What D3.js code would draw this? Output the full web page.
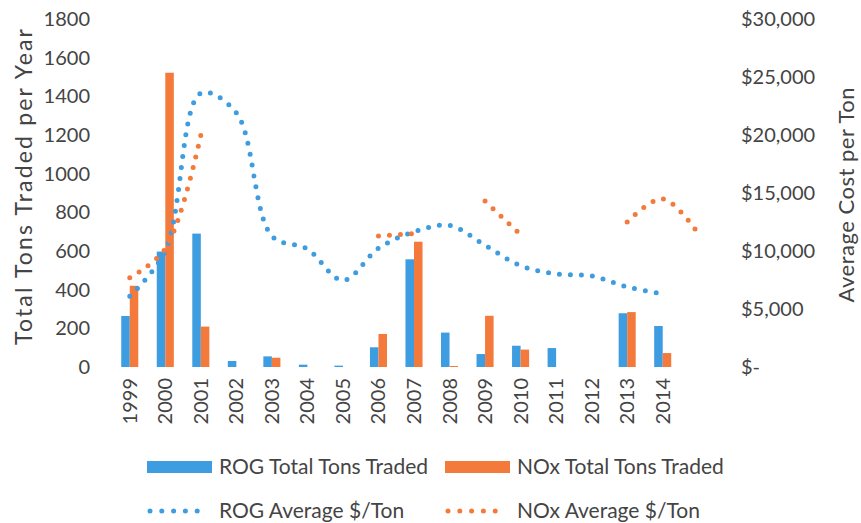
<!DOCTYPE html>
<html>
<head>
<meta charset="utf-8">
<script src="https://cdn.jsdelivr.net/npm/d3@7"></script>
<style>
  html, body { margin: 0; padding: 0; background: #fff; }
  svg { display: block; }
  text { font-family: Lato, "Open Sans", sans-serif; fill: #444; }
</style>
</head>
<body>
<svg id="chart" width="861" height="523"></svg>
<script>
// ---- data ----
const categories = ["1999","2000","2001","2002","2003","2004","2005","2006","2007","2008","2009","2010","2011","2012","2013","2014","2015"];
const xTickLabels = ["1999","2000","2001","2002","2003","2004","2005","2006","2007","2008","2009","2010","2011","2012","2013","2014",""];
const rogTons = [264, 597, 690, 31, 55, 12, 7, 102, 557, 178, 67, 110, 98, 0, 278, 212, null];
const noxTons = [420, 1522, 209, 0, 48, 0, 0, 171, 648, 5, 265, 90, 0, 0, 284, 72, null];
const rogCost = [6100, 10000, 23600, 21900, 11300, 10170, 7470, 10230, 11650, 12200, 10490, 8730, 8020, 7850, 6900, 6300, null];
const noxCost = [7700, 10200, 20000, null, null, null, null, 11300, 11500, null, 14300, 11400, null, null, 12500, 14500, 11500];
const leftTicks = [0, 200, 400, 600, 800, 1000, 1200, 1400, 1600, 1800];
const rightTicks = [0, 5000, 10000, 15000, 20000, 25000, 30000];
const seriesNames = ["ROG Total Tons Traded", "NOx Total Tons Traded", "ROG Average $/Ton", "NOx Average $/Ton"];
const colors = { rog: "#3d9de0", nox: "#f47a3c" };

// ---- layout ----
const svg = d3.select("#chart");
const plot = { left: 112, right: 716, top: 19, bottom: 367 };

const x = d3.scaleBand().domain(categories).range([plot.left, plot.right]).padding(0);
const xs = d3.scaleBand().domain(["rog","nox"]).range([0, x.bandwidth() * 0.48]);
const yL = d3.scaleLinear().domain([0, 1800]).range([plot.bottom, plot.top]);
const yR = d3.scaleLinear().domain([0, 30000]).range([plot.bottom, plot.top]);

// bars
const barOffset = (x.bandwidth() - x.bandwidth() * 0.48) / 2;
const barData = [];
categories.forEach((c, i) => {
  if (rogTons[i] != null) barData.push({ c, k: "rog", v: rogTons[i] });
  if (noxTons[i] != null) barData.push({ c, k: "nox", v: noxTons[i] });
});
svg.append("g").selectAll("rect").data(barData.filter(d => d.v > 0)).join("rect")
  .attr("x", d => x(d.c) + barOffset + xs(d.k))
  .attr("width", xs.bandwidth())
  .attr("y", d => yL(d.v))
  .attr("height", d => yL(0) - yL(d.v))
  .attr("fill", d => colors[d.k]);

// lines
const line = (scale) => d3.line()
  .defined(d => d.v != null)
  .x(d => x(d.c) + x.bandwidth() / 2)
  .y(d => scale(d.v))
  .curve(d3.curveCatmullRom.alpha(0.5));

function drawLine(vals, color) {
  const data = categories.map((c, i) => ({ c, v: vals[i] }));
  svg.append("path").datum(data)
    .attr("d", line(yR))
    .attr("fill", "none")
    .attr("stroke", color)
    .attr("stroke-width", 5)
    .attr("stroke-linecap", "round")
    .attr("stroke-dasharray", "0 11");
}
drawLine(rogCost, colors.rog);
drawLine(noxCost, colors.nox);

// axes
const axL = d3.axisLeft(yL).tickValues(leftTicks).tickFormat(d3.format("d")).tickSize(0).tickPadding(0);
const gL = svg.append("g").attr("transform", "translate(90,0)").call(axL);
gL.select(".domain").remove();
gL.selectAll("text").style("font-size", "20px").style("font-family", "Lato").attr("fill", "#444");

const fmtR = v => v === 0 ? "$-" : "$" + d3.format(",")(v);
const axR = d3.axisRight(yR).tickValues(rightTicks).tickFormat(fmtR).tickSize(0).tickPadding(0);
const gR = svg.append("g").attr("transform", "translate(741,0)").call(axR);
gR.select(".domain").remove();
gR.selectAll("text").style("font-size", "20px").style("font-family", "Lato").attr("fill", "#444");

const axB = d3.axisBottom(x).tickFormat((d, i) => xTickLabels[i]).tickSize(0).tickPadding(0);
const gB = svg.append("g").attr("transform", `translate(0,${plot.bottom})`).call(axB);
gB.select(".domain").remove();
gB.selectAll("text")
  .style("font-size", "20px").style("font-family", "Lato").attr("fill", "#444")
  .attr("text-anchor", "end")
  .attr("transform", "rotate(-90)")
  .attr("x", -11).attr("y", 0).attr("dy", "0.35em");

// axis titles
svg.append("text").attr("transform", "translate(32,187) rotate(-90)")
  .attr("text-anchor", "middle").style("font-size", "23px")
  .attr("textLength", 316).attr("lengthAdjust", "spacing")
  .text("Total Tons Traded per Year");
svg.append("text").attr("transform", "translate(854,195) rotate(-90)")
  .attr("text-anchor", "middle").style("font-size", "22px")
  .attr("textLength", 215).attr("lengthAdjust", "spacing")
  .text("Average Cost per Ton");

// legend
const legend = [
  { name: seriesNames[0], type: "bar", color: colors.rog, x: 147, y: 467 },
  { name: seriesNames[1], type: "bar", color: colors.nox, x: 445, y: 467 },
  { name: seriesNames[2], type: "line", color: colors.rog, x: 147, y: 511 },
  { name: seriesNames[3], type: "line", color: colors.nox, x: 445, y: 511 }
];
const lg = svg.append("g").selectAll("g").data(legend).join("g")
  .attr("transform", d => `translate(${d.x},${d.y})`);
lg.filter(d => d.type === "bar").append("rect")
  .attr("x", 0).attr("y", -6).attr("width", 65).attr("height", 12).attr("fill", d => d.color);
lg.filter(d => d.type === "line").append("line")
  .attr("x1", 3).attr("x2", 62).attr("y1", 0).attr("y2", 0)
  .attr("stroke", d => d.color).attr("stroke-width", 5)
  .attr("stroke-linecap", "round").attr("stroke-dasharray", "0 11.8");
lg.append("text").attr("x", 72).attr("y", 0).attr("dy", "0.35em")
  .style("font-size", "21px").text(d => d.name);
</script>
</body>
</html>
